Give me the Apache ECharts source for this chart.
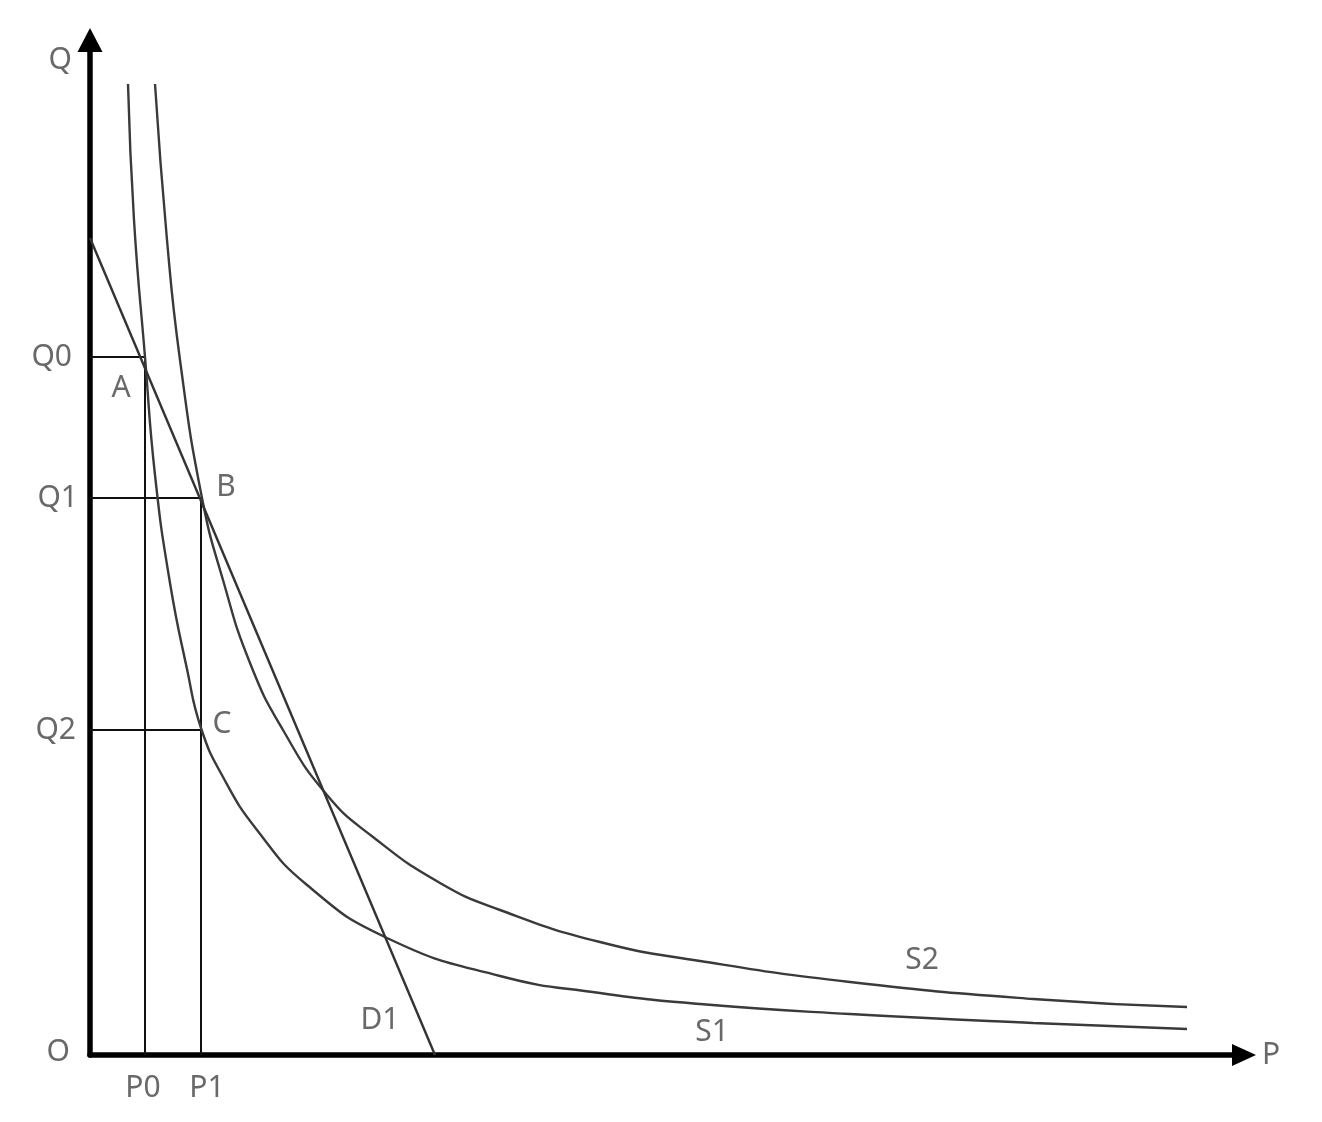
<!DOCTYPE html>
<html>
<head>
<meta charset="utf-8">
<script src="https://cdn.jsdelivr.net/npm/echarts@6/dist/echarts.min.js"></script>
<style>html,body{margin:0;padding:0;background:#fff;}#c{width:1322px;height:1122px;}</style>
</head>
<body>
<div id="c"></div>
<script>
// Curve S1 (lower supply curve) points [P, Q]
var s1Points = [[38,971],[44,835],[55,698],[65,580],[80,472],[97,386],[111,327],[133,278],[167,225],[217,170],[297,117],[410,79],[510,62],[610,51],[760,41],[943,32],[1097,26]];
// Curve S2 (upper supply curve)
var s2Points = [[65,971],[77,815],[90,695],[112,557],[133,475],[160,392],[193,325],[237,260],[283,218],[350,172],[410,145],[510,113],[610,94],[760,73],[943,56],[1097,48]];
// Demand line D1
var d1Points = [[0,817],[345,0]];
// Reference levels
var q0 = 698, q1 = 557, q2 = 325;
var p0 = 55, p1 = 111;
// Text labels [name, P, Q]
var pointLabels = [['A',31,667],['B',136,568],['C',132,331],['D1',290,35],['S1',622,23],['S2',832,95]];
var yTickLabels = [['Q',995],['Q0',q0],['Q1',q1],['Q2',q2],['O',3]];
var xTickLabels = [['P0',p0],['P1',p1]];

var font = 'Noto Sans';
var txtColor = '#444';

function lineSeries(data, color, width) {
  return {type:'line', data:data, symbol:'none', smooth:0.5,
    lineStyle:{color:color, width:width}, silent:true, z:3};
}

var yLabelDistances = {'Q':18,'Q0':18,'Q1':12,'Q2':14,'O':20};

var option = {
  animation:false,
  backgroundColor:'#fff',
  grid:{left:90, right:78, top:40, bottom:67},
  xAxis:{type:'value', min:0, max:1154,
    axisLine:{show:true, onZero:false, lineStyle:{color:'#000', width:5.5}, symbol:['none','triangle'], symbolSize:[22,24]},
    axisTick:{show:false}, axisLabel:{show:false}, splitLine:{show:false}},
  yAxis:{type:'value', min:0, max:1015,
    axisLine:{show:true, onZero:false, lineStyle:{color:'#000', width:5.5}, symbol:['none','triangle'], symbolSize:[25,24]},
    axisTick:{show:false}, axisLabel:{show:false}, splitLine:{show:false}},
  series:[
    lineSeries(s1Points, '#3a3a3a', 2.4),
    lineSeries(s2Points, '#3a3a3a', 2.4),
    {type:'line', data:d1Points, symbol:'none', lineStyle:{color:'#333', width:2.4}, silent:true, z:3},
    {type:'line', data:[[0,q0],[p0,q0],[p0,0]], symbol:'none', lineStyle:{color:'#111', width:2}, silent:true, z:2},
    {type:'line', data:[[0,q1],[p1,q1],[p1,0]], symbol:'none', lineStyle:{color:'#111', width:2}, silent:true, z:2},
    {type:'line', data:[[0,q2],[p1,q2]], symbol:'none', lineStyle:{color:'#111', width:2}, silent:true, z:2},
    {type:'scatter', symbolSize:0, clip:false, silent:true,
      data:pointLabels.map(function(d){return {name:d[0], value:[d[1],d[2]]};}),
      label:{show:true, position:'inside', formatter:'{b}', fontFamily:font, fontSize:30, color:txtColor}},
    {type:'scatter', symbolSize:0, clip:false, silent:true,
      data:yTickLabels.map(function(d){return {name:d[0], value:[0,d[1]],
        label:{distance:yLabelDistances[d[0]]}};}),
      label:{show:true, position:'left', formatter:'{b}', fontFamily:font, fontSize:30, color:txtColor}},
    {type:'scatter', symbolSize:0, clip:false, silent:true,
      data:xTickLabels.map(function(d,i){return {name:d[0], value:[d[1],0],
        label:{offset:[i===1?6:-2,0]}};}),
      label:{show:true, position:'bottom', distance:18, formatter:'{b}', fontFamily:font, fontSize:30, color:txtColor}},
    {type:'scatter', symbolSize:0, clip:false, silent:true,
      data:[{name:'P', value:[1154,0]}],
      label:{show:true, position:'right', distance:18, formatter:'{b}', fontFamily:font, fontSize:30, color:txtColor}}
  ]
};
var chart = echarts.init(document.getElementById('c'), null, {renderer:'canvas'});
chart.setOption(option);
</script>
</body>
</html>
